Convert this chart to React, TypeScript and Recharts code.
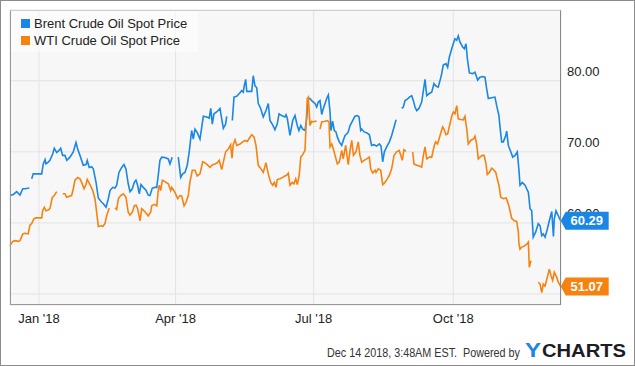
import { LineChart, Line, XAxis, YAxis, CartesianGrid } from "recharts";

// days counted from Jan 1 2018, null = no quote that day
const brentDays = [
  -19.1, -16.9, -14.7, -12.5, -10.7, -9.2, -6.4, -5.6, -4.8, -3.8, 0.7, 1.8, 2.8, 4.0, 4.6, 6.1, 7.2, 9.0, 10.1, 11.7,
  13.2, 14.3, 15.6, 17.1, 18.3, 20.4, 22.6, 24.4, 25.5, 27.0, 29.2, 31.0, 31.8, 33.1, 34.7, 35.8, 37.6, 39.1, 41.3, 42.4,
  44.2, 45.7, 46.8, 48.6, 50.1, 51.2, 52.7, 54.5, 56.0, 57.3, 58.8, 60.0, 61.5, 62.8, 63.9, 65.0, 66.1, 67.2, 68.7, 70.5,
  72.0, 73.1, 74.7, 76.4, 77.6, 78.6, 79.7, 80.9, 83.0, 85.2, 86.3, 87.8, 89.8, 91.8, 93.4, 94.7, 96.2, 97.7, 99.0, 100.6,
  101.7, 102.8, 104.3, 106.1, 108.3, 110.5, 112.2, 113.2, 114.2, 115.3, 117.1, 119.3, 120.4, 121.5, 123.0, 123.7, 125.5,
  127.4, 128.5, 130.3, 132.0, 133.6, 134.6, 135.3, 136.2, 136.9, 139.0, 140.2, 141.2, 142.3, 143.5, 144.5, 146.1, 147.8,
  149.6, 151.1, 152.2, 154.0, 155.5, 157.0, 158.2, 159.9, 162.1, 162.8, 163.6, 165.4, 167.2, 168.7, 170.2, 171.3, 172.5,
  173.8, 175.3, 176.4, 177.5, 178.6, 179.7, 180.8, 181.9, 183.0, 184.1, 185.2, 186.3, 187.4, 188.5, 189.6, 190.7, 191.8,
  192.4, 193.5, 194.6, 195.7, 196.6, 197.9, 199.5, 200.5, 201.7, 202.8, 203.8, 205.0, 206.7, 208.2, 209.8, 210.9, 212.0,
  212.7, 214.2, 215.9, 217.7, 219.2, 220.8, 222.5, 224.3, 225.4, 226.5, 227.6, 229.1, 230.9, 232.4, 234.0, 235.3, 237.0,
  239.0, 240.1, 241.2, 242.7, 244.1, 245.6, 246.7, 247.8, 248.9, 250.4, 252.2, 253.3, 254.4, 255.5, 257.2, 258.8, 260.3,
  261.6, 263.1, 264.3, 265.4, 266.4, 268.2, 269.3, 270.4, 272.0, 273.0, 274.1, 275.3, 276.3, 277.4, 279.2, 280.3, 281.4,
  282.3, 283.6, 285.8, 287.3, 289.1, 290.6, 292.4, 293.9, 295.0, 296.1, 298.3, 300.5, 301.6, 303.1, 303.8, 304.9, 306.0,
  307.6, 308.2, 309.3, 310.9, 312.2, 313.7, 315.2, 316.3, 317.0, 318.5, 320.3, 321.4, 322.5, 323.6, 324.7, 325.7, 327.3,
  329.0, 330.2, 331.3, 332.3, 333.5, 335.0, 336.3, 337.9, 339.0, 339.6, 340.7, 342.2, 343.8,
];
const brentPrices = [
  63.85, 64.0, 64.4, 63.9, 64.8, 64.8, 64.9, null, 66.2, 66.9, 66.9, 66.9, 68.3, 68.9, 68.3, 68.55, 68.8, 69.7, 70.5, 69.9,
  70.2, 70.5, 69.5, 69.5, 68.8, 69.25, 70.0, 71.3, 70.4, 69.5, 68.1, 68.2, 68.8, 67.8, 67.9, 67.6, 65.7, 63.5, 62.9, 62.7,
  62.2, 63.4, 64.55, 65.0, 64.9, 65.3, 67.1, 67.8, 68.2, 67.6, 65.5, 64.4, 64.8, 65.7, 66.0, 65.3, 64.1, 65.4, 65.0, 64.6,
  63.9, 63.85, 64.9, 65.0, 65.0, 66.7, 68.8, 69.25, 69.2, 69.0, 68.3, 69.25, null, 69.25, 66.4, 66.9, 67.1, 68.1, 70.0, 73.0,
  71.8, 73.2, 72.7, 71.8, 75.0, 74.9, 74.75, 76.1, 73.9, 75.35, 75.6, 76.1, 74.65, 73.3, 73.9, 75.0, null,
  74.4, 77.7, 77.8, 78.2, 78.6, 78.4, 79.3, 80.2, 78.5, 78.5, 78.5, 80.7, 79.3, 79.0, 76.8, 76.1, 74.9,
  75.8, 76.8, 74.4, 73.8, 73.1, 73.9, 75.35, 75.1, 74.9, 75.2, 74.75, 72.3, 74.4, 75.1, 73.7, 73.0, 73.7,
  73.2, 73.0, 74.65, 77.5, 77.5, 77.2, 77.0, 76.8, 76.3, 77.0, 77.2, 75.25, 76.1, 76.8, 77.5, 78.0, 75.6,
  73.0, 74.3, 73.0, 72.8, 72.1, 71.4, 70.9, 71.6, 72.3, 72.5, 72.8, 73.7, 74.4, 75.0, 75.1, 74.9, 73.0,
  73.2, 72.8, 72.7, 72.4, 70.9, 71.0, 70.8, 71.1, 70.8, 68.6, 70.0, 70.7, 71.4, 72.3, 73.5, 74.5, null,
  76.1, 76.3, 77.2, 77.4, 77.7, 77.9, 77.2, 76.3, 75.8, 76.1, 77.0, 78.6, 80.2, 77.9, 78.2, 78.4, 79.6,
  79.25, 79.1, 80.05, 81.0, 82.2, 82.4, 81.9, 83.3, 84.5, 85.2, 85.9, 85.7, 86.3, 85.45, 84.75, 84.5, 85.2,
  83.1, 81.1, 81.0, 81.2, 80.1, 80.5, 80.6, 80.5, 78.9, 77.5, 77.6, 77.7, 76.5, 75.1, 73.5, 71.4, 71.4,
  72.3, 72.9, 70.9, 70.0, 69.25, 69.5, 70.0, 67.4, 65.3, 65.7, 65.3, 64.8, 64.3, 62.0, 61.7, 58.0, 58.7,
  59.9, 59.6, 58.2, 58.45, 58.0, 59.15, 60.3, 61.6, 58.1, 60.6, 61.7, 61.0, 60.29,
];

const wtiDays = [
  -19.1, -17.3, -15.8, -13.6, -12.5, -10.7, -9.2, -7.1, -5.9, -4.8, -3.3, -2.0, 0.7, 1.8, 2.4, 3.5, 4.6, 6.1, 7.2, 8.8,
  10.1, 11.7, 13.6, 15.6, 17.1, 18.3, 20.0, 21.5, 22.6, 23.7, 25.5, 27.0, 28.1, 29.7, 31.0, 31.8, 33.6, 35.4, 36.9, 38.0,
  39.1, 41.3, 42.0, 43.5, 44.6, 46.3, 48.2, 50.1, 51.2, 52.3, 53.8, 55.6, 57.3, 58.8, 60.0, 61.5, 62.8, 63.9, 65.0, 66.6,
  67.7, 69.2, 70.5, 72.0, 73.6, 74.3, 76.0, 77.6, 78.6, 79.3, 80.2, 81.3, 83.0, 85.2, 86.8, 87.5, 89.6, 91.4, 92.9, 94.0,
  95.6, 96.9, 98.4, 99.5, 100.6, 101.0, 102.8, 104.3, 106.1, 107.9, 109.4, 110.9, 112.7, 114.4, 116.0, 117.5, 118.8,
  120.4, 121.5, 123.0, 124.8, 126.3, 127.2, 128.0, 129.2, 130.3, 132.5, 134.2, 135.8, 137.3, 138.6, 140.2, 141.7, 143.0,
  144.5, 146.3, 147.8, 149.6, 151.1, 152.7, 154.0, 155.1, 156.2, 157.0, 158.8, 160.6, 162.1, 163.2, 164.3, 165.4, 166.9,
  168.0, 169.2, 170.2, 171.5, 172.5, 173.8, 175.3, 175.9, 176.8, 177.5, 178.6, 179.7, 180.8, 181.9, 183.0, 184.1, 185.2,
  186.3, 188.5, 190.0, 191.1, 191.8, 192.9, 194.0, 195.1, 196.6, 197.9, 199.5, 200.5, 202.1, 203.8, 205.0, 206.1, 207.2,
  208.9, 210.4, 211.5, 212.7, 214.2, 215.9, 217.7, 218.6, 219.9, 221.5, 222.1, 223.6, 225.2, 226.5, 228.0, 229.5, 230.9,
  232.4, 234.0, 235.7, 237.4, 239.4, 240.5, 241.9, 244.0, 246.3, 247.1, 248.9, 250.6, 252.2, 253.3, 254.4, 255.5, 257.2,
  258.8, 260.3, 261.4, 262.7, 264.3, 266.0, 266.9, 268.2, 269.3, 270.8, 272.0, 273.0, 274.1, 275.3, 276.3, 277.9, 279.6,
  280.7, 281.9, 282.9, 284.5, 286.3, 287.3, 288.4, 289.5, 290.6, 292.1, 293.3, 294.6, 295.4, 296.8, 298.3, 299.4, 301.0,
  302.0, 303.1, 304.3, 306.0, 307.8, 308.6, 309.9, 311.5, 313.2, 314.8, 315.9, 316.3, 317.0, 318.1, 319.6, 321.4, 322.5,
  323.1, 324.2, 326.5, 329.0, 330.2, 331.3, 332.3, 333.5, 335.0, 336.3, 337.4, 338.5, 339.6, 341.2, 342.2, 343.8,
];
const wtiPrices = [
  56.8, 57.4, 57.5, 57.4, 57.5, 58.45, 58.55, 58.45, 59.7, 59.9, 60.6, 60.7, 60.7, 60.7, 61.7, 62.2, 61.7, 61.8, 62.0, 63.6,
  63.85, 64.4, null, 64.1, 64.1, 63.6, 63.75, 63.85, 64.8, 66.0, 66.4, 66.2, 65.7, 64.8, 65.4, 66.1, 65.4, 64.55, 63.4, 61.5,
  59.5, 59.6, 59.5, 59.9, 61.0, 62.1, null, 62.1, 61.9, 63.4, 63.85, 64.1, 63.6, 61.5, 61.1, 61.5, 62.4, 62.5, 62.0, 60.3,
  62.0, 61.7, 61.4, 61.0, 61.5, 62.4, 62.6, 62.4, 64.55, 65.3, 64.55, 66.0, 65.8, 65.5, 64.55, 65.0, 64.3, 63.4, 63.85, 63.8,
  62.4, 62.9, 63.85, 65.8, 66.9, 67.4, 67.4, 66.6, 66.9, 68.6, 68.45, 68.2, 67.8, 68.2, 68.3, 68.45, 68.8,
  67.5, 68.55, 70.0, 70.4, 71.0, 69.1, 71.0, 71.7, 70.9, 71.1, 71.4, 71.6, 71.45, 71.9, 72.4, 72.1, 70.9,
  68.1, 67.6, 67.1, 68.45, 66.9, 65.7, 65.3, 65.7, 65.0, 66.1, 66.2, 66.4, 66.6, 66.7, 67.0, 65.3, 65.7,
  65.5, 66.2, 65.4, 66.7, 69.25, 69.6, 70.2, 73.2, 77.5, 77.7, 73.7, 74.3, 74.2, 74.3, 74.3, null, 73.2,
  74.2, 74.3, 74.4, 74.2, 70.7, 71.1, 70.4, 69.5, 68.3, 68.55, 70.2, 69.0, 70.9, 68.2, 70.2, 71.6, 69.5,
  70.0, 71.4, 69.5, 68.55, 68.8, 69.0, 69.25, 67.6, 67.0, 67.4, 67.1, 67.6, 67.4, 65.4, 65.7, 66.2, 66.7,
  67.6, 69.5, 70.0, 70.2, 68.8, 70.3, 70.05, null, 70.0, 68.3, 68.1, 68.0, 67.85, 69.5, 70.7, 69.0, 69.25,
  69.25, 70.7, 71.4, 71.1, 72.3, 73.5, 73.2, 72.4, 72.5, 73.9, 75.0, 75.6, 75.35, 76.5, 74.65, 74.55, 74.5,
  75.0, 73.2, 71.1, 71.6, 71.8, 72.2, 71.1, 69.0, 69.25, 69.5, 69.5, 68.3, 66.8, 67.1, 67.7, 67.5, 67.1,
  66.2, 65.3, 63.6, 63.4, 63.5, 63.1, 62.2, 60.65, 60.3, 60.2, 58.7, 57.0, 56.3, 56.6, 56.7, 57.0, 57.3,
  53.75, 54.7, null, 51.65, 51.4, 50.2, 51.4, 51.1, 52.35, 53.5, 52.6, 51.9, 53.05, 52.35, 51.65, 51.07,
];

const monthTicks = [0, 90, 181, 273];
const monthLabels = ["Jan '18", "Apr '18", "Jul '18", "Oct '18"];
const priceTicks = [50, 60, 70, 80];

const BLUE = "#1a87e6";
const ORANGE = "#f8820f";
const FONT = "'Liberation Sans', Arial, sans-serif";

const X_DOMAIN: [number, number] = [-19.1, 344];
const Y_DOMAIN: [number, number] = [48.45, 89.95];
const MARGIN = { top: 10, right: 0, bottom: 0, left: 10 };

const toSeries = (days: number[], prices: (number | null)[]) =>
  days.map((day, i) => ({ day, price: prices[i] }));

const brentData = toSeries(brentDays, brentPrices);
const wtiData = toSeries(wtiDays, wtiPrices);

// price tag drawn at the last point of a series
const lastTag = (color: string, lastIndex: number) => (props: any) => {
  const { cx, cy, index, value } = props;
  if (index !== lastIndex || cx == null || cy == null) return <g key={`d${index}`} />;
  const v = Array.isArray(value) ? value[1] : value;
  return (
    <g key={`d${index}`}>
      <polygon
        points={`${cx},${cy} ${cx + 5},${cy - 9} ${cx + 48},${cy - 9} ${cx + 48},${cy + 9} ${cx + 5},${cy + 9}`}
        fill={color}
      />
      <text x={cx + 26} y={cy + 4.5} textAnchor="middle" fill="#fff" fontSize={13} fontWeight="bold" fontFamily={FONT}>
        {Number(v).toFixed(2)}
      </text>
    </g>
  );
};

const MonthTick = (props: any) => {
  const { x, y, payload } = props;
  const i = monthTicks.indexOf(payload.value);
  return (
    <text x={x} y={y + 16} textAnchor="middle" fill="#222" fontSize={13} fontFamily={FONT}>
      {monthLabels[i]}
    </text>
  );
};

const PriceTick = (props: any) => {
  const { x, y, payload } = props;
  return (
    <text x={x + 4} y={y - 5} textAnchor="start" fill="#222" fontSize={13} fontFamily={FONT}>
      {Number(payload.value).toFixed(2)}
    </text>
  );
};

export default function App() {
  return (
    <div style={{ position: "absolute", left: 0, top: 0, width: 635, height: 366, background: "#fff", fontFamily: FONT }}>
      <LineChart width={635} height={366} margin={MARGIN}>
        <CartesianGrid stroke="#e3e3e3" fill="#f7f7f7" fillOpacity={1} />
        <XAxis
          dataKey="day"
          type="number"
          domain={X_DOMAIN}
          ticks={monthTicks}
          height={61}
          tickSize={0}
          axisLine={false}
          tickLine={false}
          tick={<MonthTick />}
        />
        <YAxis
          orientation="right"
          type="number"
          domain={Y_DOMAIN}
          ticks={priceTicks}
          width={74}
          tickSize={0}
          axisLine={false}
          tickLine={false}
          tick={<PriceTick />}
        />
        <Line data={brentData} dataKey="price" stroke={BLUE} strokeWidth={1.6} dot={false} activeDot={false} isAnimationActive={false} type="linear" />
        <Line data={wtiData} dataKey="price" stroke={ORANGE} strokeWidth={1.6} dot={false} activeDot={false} isAnimationActive={false} type="linear" />
      </LineChart>

      {/* second layer with the same scales: last-value tags above the axis labels */}
      <div style={{ position: "absolute", left: 0, top: 0 }}>
        <LineChart width={635} height={366} margin={MARGIN}>
          <XAxis dataKey="day" type="number" domain={X_DOMAIN} ticks={monthTicks} height={61} axisLine={false} tickLine={false} tick={false} />
          <YAxis orientation="right" type="number" domain={Y_DOMAIN} ticks={priceTicks} width={74} axisLine={false} tickLine={false} tick={false} />
          <Line
            data={brentData}
            dataKey="price"
            stroke="none"
            dot={lastTag(BLUE, brentData.length - 1)}
            activeDot={false}
            isAnimationActive={false}
          />
          <Line
            data={wtiData}
            dataKey="price"
            stroke="none"
            dot={lastTag(ORANGE, wtiData.length - 1)}
            activeDot={false}
            isAnimationActive={false}
          />
        </LineChart>
      </div>

      {/* plot frame */}
      <div
        style={{
          position: "absolute",
          left: 10,
          top: 10,
          width: 551,
          height: 295,
          boxSizing: "border-box",
          borderTop: "1px solid #cfcfcf",
          borderLeft: "1px solid #999",
          borderRight: "1px solid #8a8a8a",
          borderBottom: "1px solid #999",
          pointerEvents: "none",
        }}
      />

      {/* legend */}
      <div
        style={{
          position: "absolute",
          left: 11,
          top: 11,
          width: 187,
          height: 41,
          background: "rgba(255,255,255,0.55)",
          fontSize: 13,
          color: "#222",
        }}
      >
        {[
          { name: "Brent Crude Oil Spot Price", color: BLUE },
          { name: "WTI Crude Oil Spot Price", color: ORANGE },
        ].map((item, i) => (
          <div key={item.name} style={{ position: "absolute", left: 10, top: 4 + i * 17, height: 17, display: "flex", alignItems: "center" }}>
            <span style={{ width: 9, height: 9, background: item.color, display: "inline-block", marginRight: 4 }} />
            <span style={{ lineHeight: "17px", whiteSpace: "nowrap" }}>{item.name}</span>
          </div>
        ))}
      </div>

      {/* footer */}
      <svg width={635} height={366} style={{ position: "absolute", left: 0, top: 0, pointerEvents: "none" }}>
        <text x={327} y={356.5} fontSize={12} fill="#333" fontFamily={FONT} textLength={193} lengthAdjust="spacingAndGlyphs" xmlSpace="preserve">
          Dec 14 2018, 3:48AM EST.  Powered by
        </text>
        <text x={525} y={357} fontSize={21} fontWeight="bold" fill={BLUE} fontFamily={FONT} textLength={16} lengthAdjust="spacingAndGlyphs">
          Y
        </text>
        <text x={542} y={356.5} fontSize={18} fontWeight="bold" fill="#1c1c24" fontFamily={FONT} textLength={84} lengthAdjust="spacingAndGlyphs">
          CHARTS
        </text>
      </svg>

      {/* outer frame */}
      <div
        style={{
          position: "absolute",
          left: 0,
          top: 0,
          width: 635,
          height: 366,
          boxSizing: "border-box",
          border: "1px solid #8c8c8c",
          pointerEvents: "none",
        }}
      />
    </div>
  );
}
